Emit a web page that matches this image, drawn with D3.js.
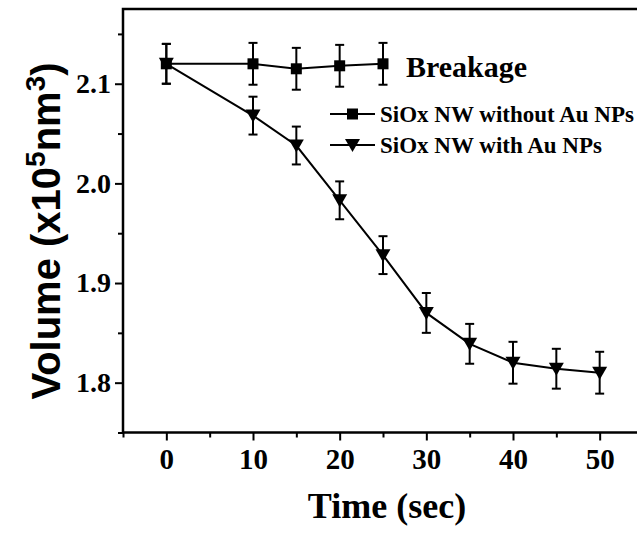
<!DOCTYPE html>
<html>
<head>
<meta charset="utf-8">
<script src="https://cdn.jsdelivr.net/npm/d3@7"></script>
<style>
  body { margin: 0; background: #fff; }
  svg { display: block; }
  .tick text { font-family: "Liberation Serif", "Times New Roman", serif; font-weight: bold; }
</style>
</head>
<body>
<svg id="chart"></svg>
<script>
// Time (sec) and volume (x10^5 nm^3)
const timesNoAu = [0, 10, 15, 20, 25];
const volNoAu = [2.12, 2.12, 2.115, 2.118, 2.12];
const errNoAu = [0.02, 0.021, 0.021, 0.021, 0.021];

const timesAu = [0, 10, 15, 20, 25, 30, 35, 40, 45, 50];
const volAu = [2.12, 2.068, 2.038, 1.983, 1.928, 1.87, 1.839, 1.82, 1.814, 1.81];
const errAu = [0.02, 0.019, 0.019, 0.019, 0.019, 0.02, 0.02, 0.021, 0.02, 0.021];

const xTicks = [0, 10, 20, 30, 40, 50];
const xMinor = [-5, 5, 15, 25, 35, 45, 55];
const yTicks = [1.8, 1.9, 2.0, 2.1];
const yMinor = [1.75, 1.85, 1.95, 2.05, 2.15];

const legendLabels = ['SiOx NW without Au NPs', 'SiOx NW with Au NPs'];

const width = 637, height = 536;
const plotLeft = 123, plotTop = 9, plotRight = 643, plotBottom = 432.5;

const svg = d3.select('#chart')
  .attr('width', width)
  .attr('height', height);

const x = d3.scaleLinear().domain([-5, 55]).range([plotLeft, plotRight]);
const y = d3.scaleLinear().domain([1.75, 2.175]).range([plotBottom, plotTop]);

// frame
svg.append('rect')
  .attr('x', plotLeft).attr('y', plotTop)
  .attr('width', plotRight - plotLeft).attr('height', plotBottom - plotTop)
  .attr('fill', 'none').attr('stroke', '#000').attr('stroke-width', 2.5);

// x axis
const xAxisG = svg.append('g')
  .attr('transform', `translate(0,${plotBottom})`)
  .call(d3.axisBottom(x).tickValues(xTicks).tickFormat(d3.format('d'))
    .tickSize(8).tickSizeOuter(0).tickPadding(8));
xAxisG.select('.domain').remove();
xAxisG.selectAll('.tick line').attr('stroke-width', 2);
xAxisG.selectAll('.tick text').attr('font-size', 29).attr('fill', '#000');

const xMinorG = svg.append('g')
  .attr('transform', `translate(0,${plotBottom})`)
  .call(d3.axisBottom(x).tickValues(xMinor).tickFormat('').tickSize(5).tickSizeOuter(0));
xMinorG.select('.domain').remove();
xMinorG.selectAll('.tick line').attr('stroke-width', 2);

// y axis
const yAxisG = svg.append('g')
  .attr('transform', `translate(${plotLeft},0)`)
  .call(d3.axisLeft(y).tickValues(yTicks).tickFormat(d3.format('.1f'))
    .tickSize(8).tickSizeOuter(0).tickPadding(4));
yAxisG.select('.domain').remove();
yAxisG.selectAll('.tick line').attr('stroke-width', 2);
yAxisG.selectAll('.tick text').attr('font-size', 28).attr('fill', '#000');

const yMinorG = svg.append('g')
  .attr('transform', `translate(${plotLeft},0)`)
  .call(d3.axisLeft(y).tickValues(yMinor).tickFormat('').tickSize(5).tickSizeOuter(0));
yMinorG.select('.domain').remove();
yMinorG.selectAll('.tick line').attr('stroke-width', 2);

// axis titles
svg.append('text')
  .attr('x', 387).attr('y', 518)
  .attr('text-anchor', 'middle')
  .attr('font-family', '"Liberation Serif", "Times New Roman", serif')
  .attr('font-weight', 'bold').attr('font-size', 36)
  .text('Time (sec)');

const yLabel = svg.append('text')
  .attr('transform', 'translate(60,231) rotate(-90)')
  .attr('text-anchor', 'middle')
  .attr('font-family', '"Liberation Sans", Arial, sans-serif')
  .attr('font-weight', 'bold').attr('font-size', 40);
yLabel.append('tspan').text('Volume (x10');
yLabel.append('tspan').attr('font-size', 28).attr('dy', -15).text('5');
yLabel.append('tspan').attr('dy', 15).text('nm');
yLabel.append('tspan').attr('font-size', 28).attr('dy', -15).text('3');
yLabel.append('tspan').attr('dy', 15).text(')');

// series
const noAu = timesNoAu.map((t, i) => ({ t, v: volNoAu[i], e: errNoAu[i] }));
const withAu = timesAu.map((t, i) => ({ t, v: volAu[i], e: errAu[i] }));

const line = d3.line().x(d => x(d.t)).y(d => y(d.v));
const triPath = 'M-7.5,-6L7.5,-6L0,7Z';

function drawErrors(data) {
  const g = svg.append('g').attr('stroke', '#000').attr('stroke-width', 2);
  data.forEach(d => {
    const cx = x(d.t);
    g.append('line').attr('x1', cx).attr('x2', cx).attr('y1', y(d.v - d.e)).attr('y2', y(d.v + d.e));
    g.append('line').attr('x1', cx - 4.5).attr('x2', cx + 4.5).attr('y1', y(d.v + d.e)).attr('y2', y(d.v + d.e));
    g.append('line').attr('x1', cx - 4.5).attr('x2', cx + 4.5).attr('y1', y(d.v - d.e)).attr('y2', y(d.v - d.e));
  });
}

drawErrors(withAu);
drawErrors(noAu);

svg.append('path').datum(withAu)
  .attr('d', line).attr('fill', 'none').attr('stroke', '#000').attr('stroke-width', 2);
svg.append('path').datum(noAu)
  .attr('d', line).attr('fill', 'none').attr('stroke', '#000').attr('stroke-width', 2);

svg.append('g').selectAll('path').data(withAu).join('path')
  .attr('d', triPath)
  .attr('transform', d => `translate(${x(d.t)},${y(d.v)})`)
  .attr('fill', '#000');

svg.append('g').selectAll('rect').data(noAu).join('rect')
  .attr('x', d => x(d.t) - 5.5).attr('y', d => y(d.v) - 5.5)
  .attr('width', 11).attr('height', 11)
  .attr('fill', '#000');

// annotation
svg.append('text')
  .attr('x', 406).attr('y', 77)
  .attr('font-family', '"Liberation Serif", "Times New Roman", serif')
  .attr('font-weight', 'bold').attr('font-size', 30)
  .text('Breakage');

// legend
const legend = svg.append('g').attr('transform', 'translate(330,0)');
const legendY = [114, 145];
legendLabels.forEach((label, i) => {
  const g = legend.append('g').attr('transform', `translate(0,${legendY[i]})`);
  g.append('line').attr('x1', 0).attr('x2', 45).attr('stroke', '#000').attr('stroke-width', 2);
  if (i === 0) {
    g.append('rect').attr('x', 17).attr('y', -5.5).attr('width', 11).attr('height', 11).attr('fill', '#000');
  } else {
    g.append('path').attr('d', triPath).attr('transform', 'translate(22.5,0)').attr('fill', '#000');
  }
  g.append('text')
    .attr('x', 50).attr('y', 8)
    .attr('font-family', '"Liberation Serif", "Times New Roman", serif')
    .attr('font-weight', 'bold').attr('font-size', 23)
    .text(label);
});
</script>
</body>
</html>
